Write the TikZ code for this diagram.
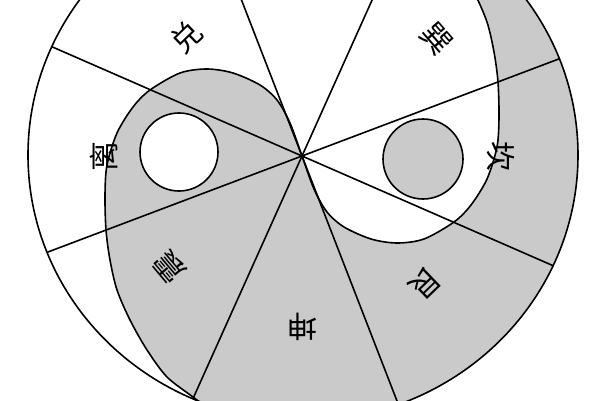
\documentclass[tikz,border=0pt]{standalone}
\usepackage{fontspec}
\newfontfamily\cjk{Noto Sans CJK SC}
\definecolor{yingrey}{RGB}{202,202,202}
\begin{document}
\begin{tikzpicture}[x=1pt,y=1pt,line width=1.6pt,
	gua/.style={font=\cjk\fontsize{30}{30}\selectfont,inner sep=0pt}]
	\useasboundingbox (0,0) rectangle (600,400);
	\clip (0,0) rectangle (600,400);
	\fill[white] (0,0) rectangle (600,400);
	\coordinate (O) at (302,244);
	\begin{scope}
		\clip (303,245) ellipse [x radius=275,y radius=266];
		\draw[fill=yingrey] (200,-80) -- plot[smooth] coordinates {(207,-8) (193,3) (167,23) (147,50) (130,80) (117,110) (110,140) (106,170) (105,205) (107,235) (117,267) (133,293) (150,310) (180,327) (207,331) (233,327) (260,315) (277,300) (290,277) (302,244) (314,211) (327,188) (344,173) (371,161) (397,157) (424,161) (454,178) (471,195) (487,221) (497,253) (499,283) (498,318) (494,348) (487,378) (474,408) (457,438) (437,465) (411,485) (397,496)} -- (400,560) -- (700,560) -- (700,-80) -- cycle;
		\foreach \a in {20.7,65.8,111.2,156.4}
			\draw ([shift={(\a:400)}]O) -- ([shift={(\a+180:400)}]O);
	\end{scope}
	\draw (303,245) ellipse [x radius=275,y radius=266];
	\draw[fill=white] (179,248) circle (39);
	\draw[fill=yingrey] (423,241) circle (40);
	\foreach \a/\r/\t/\n in {134/166/兑/dui,180/198/离/li,220/173/震/zhen,270/171/坤/kun,314/177/艮/gen,0/199/坎/kan,41/178/巽/xun}
		\node[gua,rotate=\a-90] (\n) at ([shift={(\a:\r)}]O) {\t};
\end{tikzpicture}
\end{document}
